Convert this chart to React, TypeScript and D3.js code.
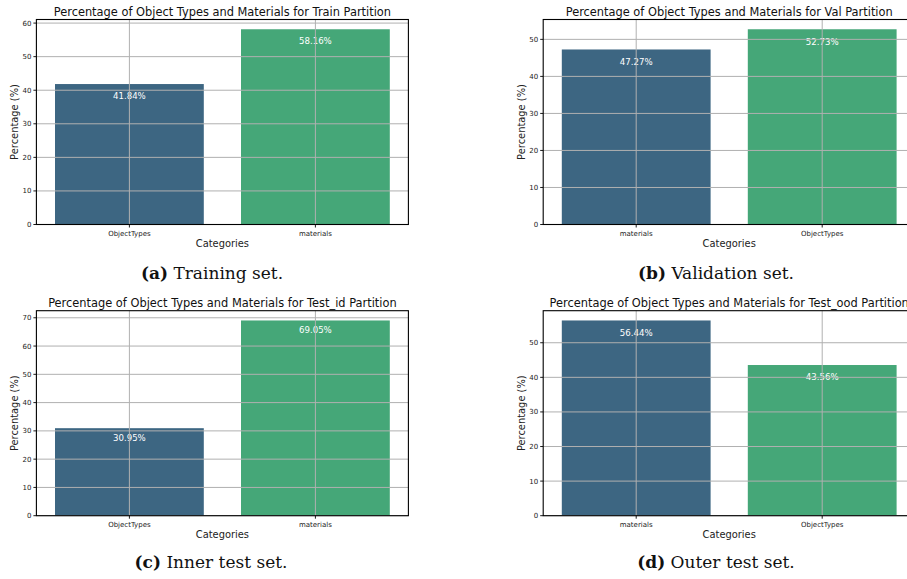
import React from 'react';
import * as d3 from 'd3';

// values
const trainCategories = ['ObjectTypes', 'materials'];
const trainValues = [41.84, 58.16];
const valCategories = ['materials', 'ObjectTypes'];
const valValues = [47.27, 52.73];
const testIdCategories = ['ObjectTypes', 'materials'];
const testIdValues = [30.95, 69.05];
const testOodCategories = ['materials', 'ObjectTypes'];
const testOodValues = [56.44, 43.56];

const titles = [
  'Percentage of Object Types and Materials for Train Partition',
  'Percentage of Object Types and Materials for Val Partition',
  'Percentage of Object Types and Materials for Test_id Partition',
  'Percentage of Object Types and Materials for Test_ood Partition',
];
const captionTags = ['(a)', '(b)', '(c)', '(d)'];
const captionTexts = ['Training set.', 'Validation set.', 'Inner test set.', 'Outer test set.'];

const barColors = ['#3d6682', '#45a778'];
const FONT = 'DejaVu Sans, sans-serif';

interface PanelProps {
  left: number;
  top: number;
  title: string;
  categories: string[];
  values: number[];
}

const AX_W = 372;
const AX_H = 205;

const Panel: React.FC<PanelProps> = ({ left, top, title, categories, values }) => {
  const x = d3.scaleBand<string>().domain(categories).range([0, AX_W]).paddingInner(0.2).paddingOuter(0.1);
  const yMax = (d3.max(values) ?? 0) * 1.05;
  const y = d3.scaleLinear().domain([0, yMax]).range([AX_H, 0]);
  const ticks = y.ticks(6);
  const centers = categories.map(c => (x(c) ?? 0) + x.bandwidth() / 2);

  return (
    <g transform={`translate(${left},${top})`}>
      {/* bars */}
      {categories.map((c, i) => (
        <rect
          key={c}
          x={x(c)}
          y={y(values[i])}
          width={x.bandwidth()}
          height={AX_H - y(values[i])}
          fill={barColors[i % barColors.length]}
        />
      ))}
      {/* value labels */}
      {categories.map((c, i) => (
        <text
          key={c + 'l'}
          x={centers[i]}
          y={y(values[i] - 3.5)}
          dy="0.35em"
          textAnchor="middle"
          fontSize={8.6}
          fontFamily={FONT}
          fill="#ffffff"
        >
          {values[i].toFixed(2)}%
        </text>
      ))}
      {/* grid drawn over the bars */}
      {ticks.map(t => (
        <line key={'gy' + t} x1={0} x2={AX_W} y1={y(t)} y2={y(t)} stroke="#b0b0b0" strokeWidth={1} />
      ))}
      {centers.map((cx, i) => (
        <line key={'gx' + i} x1={cx} x2={cx} y1={0} y2={AX_H} stroke="#b0b0b0" strokeWidth={1} />
      ))}
      {/* spines */}
      <rect x={0} y={0} width={AX_W} height={AX_H} fill="none" stroke="#000" strokeWidth={1.1} />
      {/* y ticks */}
      {ticks.map(t => (
        <g key={'ty' + t} transform={`translate(0,${y(t)})`}>
          <line x1={-3} x2={0} stroke="#000" strokeWidth={0.9} />
          <text x={-5} dy="0.35em" textAnchor="end" fontSize={7} fontFamily={FONT} fill="#222">
            {t}
          </text>
        </g>
      ))}
      {/* x ticks */}
      {categories.map((c, i) => (
        <g key={'tx' + c} transform={`translate(${centers[i]},${AX_H})`}>
          <line y1={0} y2={3} stroke="#000" strokeWidth={0.9} />
          <text y={11.2} textAnchor="middle" fontSize={7} fontFamily={FONT} fill="#222">
            {c}
          </text>
        </g>
      ))}
      <text x={AX_W / 2} y={AX_H + 22.7} textAnchor="middle" fontSize={9.9} fontFamily={FONT} fill="#222">
        Categories
      </text>
      <text
        transform={`translate(-18.5,${AX_H / 2}) rotate(-90)`}
        textAnchor="middle"
        fontSize={9.9}
        fontFamily={FONT}
        fill="#222"
      >
        Percentage (%)
      </text>
      <text x={AX_W / 2} y={-4} textAnchor="middle" fontSize={11.4} fontFamily={FONT} fill="#111">
        {title}
      </text>
    </g>
  );
};

const App: React.FC = () => {
  const panels = [
    { left: 36.4, top: 19.5, categories: trainCategories, values: trainValues },
    { left: 543.2, top: 19.5, categories: valCategories, values: valValues },
    { left: 36.4, top: 310.7, categories: testIdCategories, values: testIdValues },
    { left: 543.2, top: 310.7, categories: testOodCategories, values: testOodValues },
  ];
  const captionPos = [
    { x: 212, y: 279 },
    { x: 716, y: 279 },
    { x: 211, y: 568 },
    { x: 716, y: 568 },
  ];

  return (
    <svg width={907} height={579} style={{ position: 'absolute', left: 0, top: 0, background: '#fff' }}>
      <rect width={907} height={579} fill="#fff" />
      {panels.map((p, i) => (
        <Panel key={i} {...p} title={titles[i]} />
      ))}
      {captionPos.map((c, i) => (
        <text
          key={'cap' + i}
          x={c.x}
          y={c.y}
          textAnchor="middle"
          fontSize={17}
          fontFamily="DejaVu Serif, serif"
          fill="#111"
        >
          <tspan fontWeight="bold">{captionTags[i]}</tspan> {captionTexts[i]}
        </text>
      ))}
    </svg>
  );
};

export default App;
